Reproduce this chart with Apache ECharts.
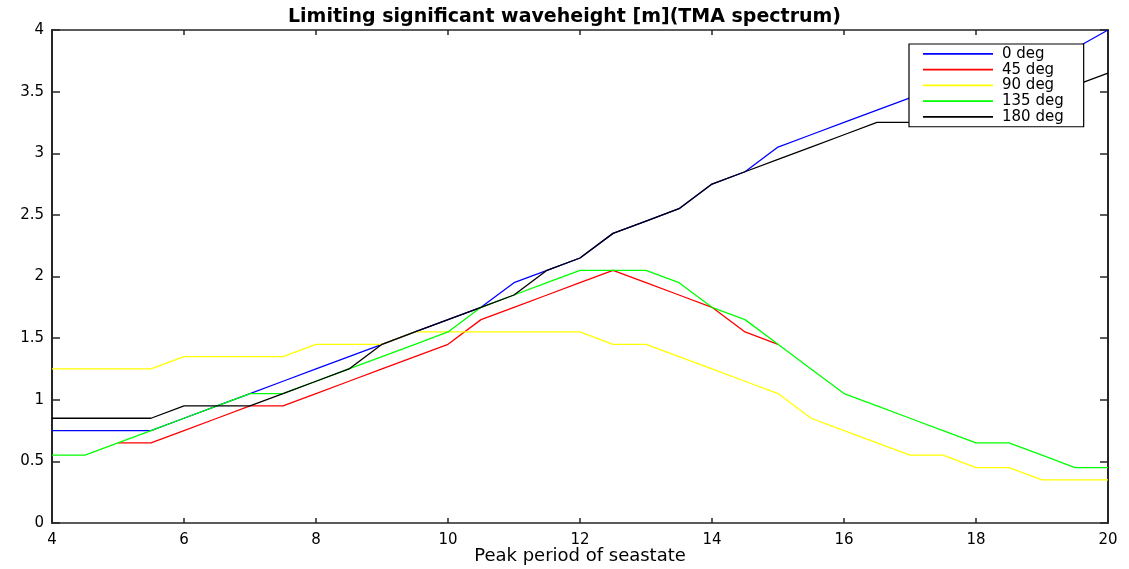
<!DOCTYPE html>
<html>
<head>
<meta charset="utf-8">
<script src="https://cdn.jsdelivr.net/npm/echarts@6/dist/echarts.min.js"></script>
<style>html,body{margin:0;padding:0;background:#fff;}#c{width:1129px;height:569px;}</style>
</head>
<body>
<div id="c"></div>
<script>
const periods = [4, 4.5, 5, 5.5, 6, 6.5, 7, 7.5, 8, 8.5, 9, 9.5, 10, 10.5, 11, 11.5, 12, 12.5, 13, 13.5, 14, 14.5, 15, 15.5, 16, 16.5, 17, 17.5, 18, 18.5, 19, 19.5, 20];
const deg0   = [0.75,0.75,0.75,0.75,0.85,0.95,1.05,1.15,1.25,1.35,1.45,1.55,1.65,1.75,1.95,2.05,2.15,2.35,2.45,2.55,2.75,2.85,3.05,3.15,3.25,3.35,3.45,3.55,3.65,3.75,3.85,3.85,4.0];
// red is hidden under the green line outside 5..15, so only its visible part is kept
const deg45  = [null,null,0.65,0.65,0.75,0.85,0.95,0.95,1.05,1.15,1.25,1.35,1.45,1.65,1.75,1.85,1.95,2.05,1.95,1.85,1.75,1.55,1.45,null,null,null,null,null,null,null,null,null,null];
const deg90  = [1.25,1.25,1.25,1.25,1.35,1.35,1.35,1.35,1.45,1.45,1.45,1.55,1.55,1.55,1.55,1.55,1.55,1.45,1.45,1.35,1.25,1.15,1.05,0.85,0.75,0.65,0.55,0.55,0.45,0.45,0.35,0.35,0.35];
const deg135 = [0.55,0.55,0.65,0.75,0.85,0.95,1.05,1.05,1.15,1.25,1.35,1.45,1.55,1.75,1.85,1.95,2.05,2.05,2.05,1.95,1.75,1.65,1.45,1.25,1.05,0.95,0.85,0.75,0.65,0.65,0.55,0.45,0.45];
const deg180 = [0.85,0.85,0.85,0.85,0.95,0.95,0.95,1.05,1.15,1.25,1.45,1.55,1.65,1.75,1.85,2.05,2.15,2.35,2.45,2.55,2.75,2.85,2.95,3.05,3.15,3.25,3.25,3.35,3.45,3.45,3.55,3.55,3.65];
const seriesNames = ['0 deg', '45 deg', '90 deg', '135 deg', '180 deg'];
const seriesColors = ['#0000ff', '#ff0000', '#ffff00', '#00ff00', '#000000'];
const seriesValues = [deg0, deg45, deg90, deg135, deg180];
const xTicks = { min: 4, max: 20, interval: 2 };
const yTicks = { min: 0, max: 4, interval: 0.5 };

const FONT = 'DejaVu Sans';
const axisCol = '#262626';

const chart = echarts.init(document.getElementById('c'));
const xBase = {
  type: 'value', min: xTicks.min, max: xTicks.max, interval: xTicks.interval,
  splitLine: { show: false },
  axisLine: { show: true, onZero: false, lineStyle: { color: axisCol, width: 1.5 } },
  axisTick: { show: true, inside: true, length: 5, lineStyle: { color: axisCol, width: 1.5 } }
};
const yBase = {
  type: 'value', min: yTicks.min, max: yTicks.max, interval: yTicks.interval,
  splitLine: { show: false },
  axisLine: { show: true, onZero: false, lineStyle: { color: axisCol, width: 2 } },
  axisTick: { show: true, inside: true, length: 8, lineStyle: { color: axisCol, width: 1.5 } }
};
chart.setOption({
  backgroundColor: '#ffffff',
  animation: false,
  title: {
    text: 'Limiting significant waveheight [m](TMA spectrum)',
    left: 'center', top: 3,
    textStyle: { fontFamily: FONT, fontSize: 19, fontWeight: 'bold', color: '#000' }
  },
  grid: { left: 52, right: 21, top: 30, bottom: 46, containLabel: false, outerBoundsMode: 'none' },
  legend: {
    orient: 'vertical', left: 909, top: 44,
    data: seriesNames.map((n, i) => ({ name: n, icon: 'rect', itemStyle: { color: seriesColors[i] } })),
    itemWidth: 70, itemHeight: 1.6, itemGap: 0,
    padding: [2, 20, 2, 14],
    borderColor: '#000', borderWidth: 1.2, backgroundColor: '#fff',
    textStyle: { fontFamily: FONT, fontSize: 15, color: '#000', lineHeight: 15.75, padding: [0, 0, 0, 4] }
  },
  xAxis: [
    Object.assign({}, xBase, {
      position: 'bottom',
      name: 'Peak period of seastate', nameLocation: 'middle', nameGap: 24, nameMoveOverlap: false,
      nameTextStyle: { fontFamily: FONT, fontSize: 18, color: '#000' },
      axisLabel: { fontFamily: FONT, fontSize: 15, color: '#000', margin: 10 }
    }),
    Object.assign({}, xBase, { position: 'top', axisLabel: { show: false } })
  ],
  yAxis: [
    Object.assign({}, yBase, {
      position: 'left',
      axisLabel: { fontFamily: FONT, fontSize: 15, color: '#000', margin: 8 }
    }),
    Object.assign({}, yBase, { position: 'right', axisLabel: { show: false } })
  ],
  series: seriesNames.map((n, i) => ({
    name: n, type: 'line', xAxisIndex: 0, yAxisIndex: 0,
    symbol: 'none', clip: true, connectNulls: false,
    color: seriesColors[i],
    lineStyle: { color: seriesColors[i], width: 1.3 },
    data: periods.map((p, j) => [p, seriesValues[i][j]])
  }))
});
</script>
</body>
</html>
